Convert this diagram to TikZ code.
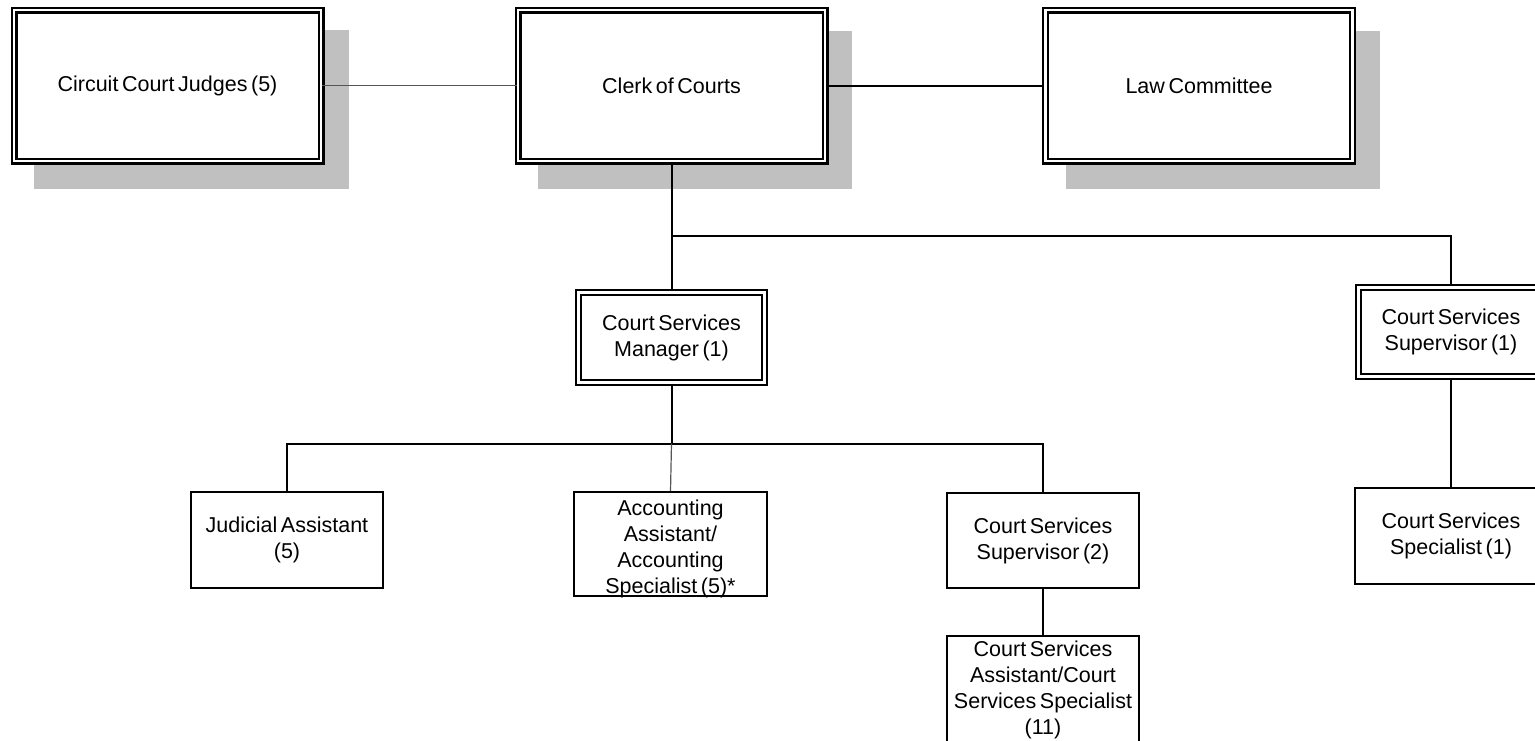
\documentclass[tikz,border=0pt]{standalone}
\usepackage{fontspec}
\setmainfont{Liberation Sans}[WordSpace=0.6]
\definecolor{shadowgray}{HTML}{C0C0C0}
\definecolor{linegray}{HTML}{555555}
\begin{document}
\begin{tikzpicture}[x=1pt,y=-1pt,
  every node/.style={font=\fontsize{21.5}{26}\selectfont, align=center, inner sep=0pt},
  dblbox/.style={draw=black, double=white, line width=2.1pt, double distance=2.8pt, fill=white},
  topbox/.style={dblbox, minimum width=307pt, minimum height=151pt},
  midbox/.style={dblbox, minimum width=186pt, minimum height=90pt},
  leafbox/.style={draw=black, line width=1.8pt, fill=white, minimum width=192pt, minimum height=96pt},
  conn/.style={draw=black, line width=2pt},
  thinconn/.style={draw=linegray, line width=1.2pt},
  shadowbox/.style={fill=shadowgray}]
\useasboundingbox (0,0) rectangle (1535,740);
\clip (0,0) rectangle (1535,740);
\fill[white] (0,0) rectangle (1535,740);
% shadows
\fill[shadowbox] (34,30) rectangle (349,189);
\fill[shadowbox] (538,31) rectangle (852,189);
\fill[shadowbox] (1066,31) rectangle (1380,189);
% top row
\node[topbox] (judges) at (167.5,85.5) {Circuit Court Judges (5)};
\node[topbox] (clerk) at (671.5,85.5) {Clerk of Courts};
\node[topbox] (law) at (1199,85.5) {Law Committee};
% middle row
\node[midbox] (manager) at (671.5,337.5) {Court Services\\Manager (1)};
\node[midbox, minimum width=185pt, minimum height=89pt] (rsup) at (1451,332) {Court Services\\Supervisor (1)};
% leaves
\node[leafbox] (judicial) at (287,540) {Judicial Assistant\\(5)};
\node[leafbox, minimum width=193pt, minimum height=104pt] (acct) at (670.5,544) {\raisebox{-5pt}[\height][\depth]{\begin{tabular}{@{}c@{}}Accounting\\Assistant/\\Accounting\\Specialist (5)*\end{tabular}}};
\node[leafbox, minimum height=95pt] (sup2) at (1043,540.5) {Court Services\\Supervisor (2)};
\node[leafbox, minimum height=108pt] (assist) at (1043,690) {Court Services\\Assistant/Court\\Services Specialist\\(11)};
\node[leafbox] (spec) at (1451,536) {Court Services\\Specialist (1)};
% branch points
\coordinate (b1) at (671.5,236);
\coordinate (b2) at (671.5,443.5);
% connectors
\draw[thinconn] (judges.east) -- (clerk.west);
\draw[conn] (clerk.east) -- (law.west);
\draw[conn] (clerk.south) -- (manager.north);
\draw[conn] (b1) -| (rsup.north);
\draw[conn] (manager.south) -- (b2);
\draw[conn] (judicial.north) -- (judicial.north |- b2) -- (sup2.north |- b2) -- (sup2.north);
\draw[thinconn] (b2) -- (acct.north);
\draw[conn] (sup2.south) -- (assist.north);
\draw[conn] (rsup.south) -- (spec.north);
\end{tikzpicture}
\end{document}
